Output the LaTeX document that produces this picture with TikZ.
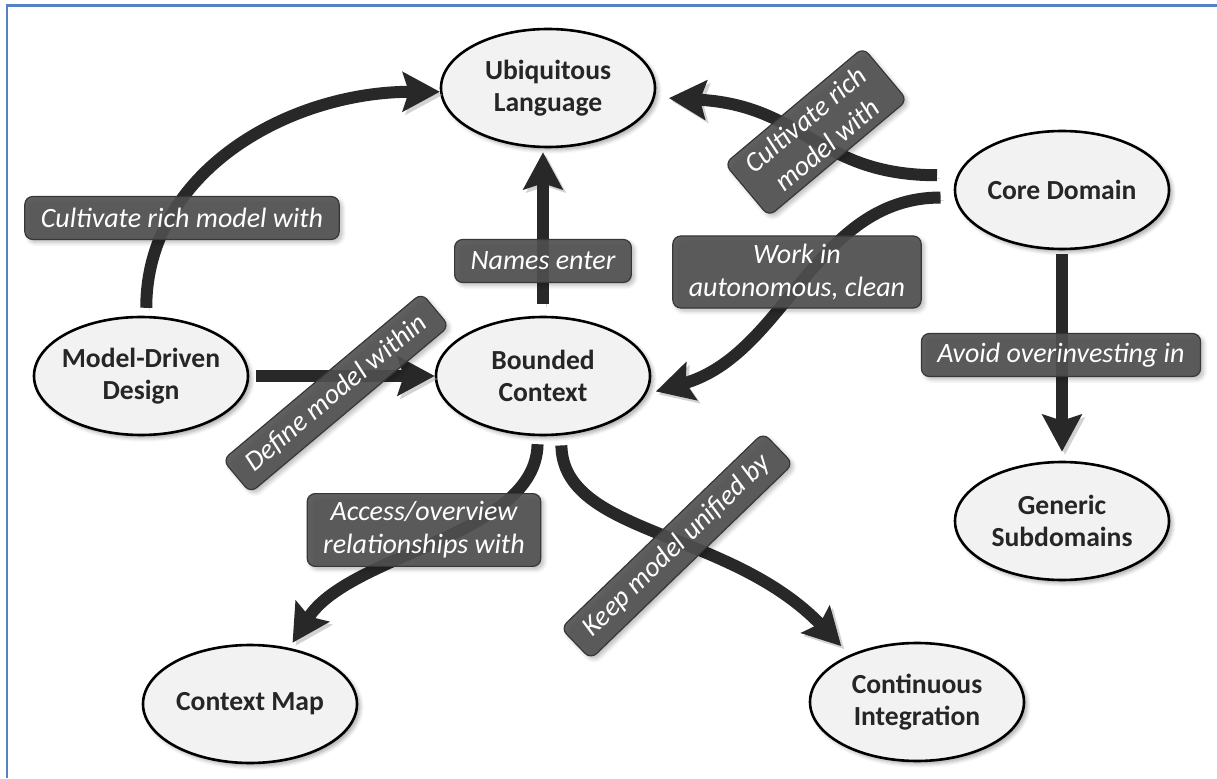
\documentclass[tikz,border=0pt]{standalone}
\usepackage{fontspec}
\setmainfont{Carlito}
\usetikzlibrary{arrows.meta,shapes.geometric,shadows.blur}
\definecolor{framebl}{RGB}{84,130,195}
\definecolor{nodefill}{RGB}{242,242,242}
\definecolor{inkc}{RGB}{38,38,38}
\definecolor{arrowc}{RGB}{40,40,40}
\definecolor{lblfill}{RGB}{80,80,80}
\definecolor{lbledge}{RGB}{55,55,55}
\tikzset{
  concept/.style={ellipse, draw=black, line width=1.3pt, fill=nodefill,
    minimum width=107pt, minimum height=59pt, inner xsep=-4pt, inner ysep=0pt,
    align=center, text=inkc, font=\bfseries\fontsize{13.8}{16}\selectfont,
    blur shadow={shadow xshift=1.5pt, shadow yshift=-1.5pt, shadow blur steps=6,
      shadow blur radius=2pt, shadow opacity=35}},
  relbox/.style={rectangle, rounded corners=4pt, fill=lblfill, fill opacity=0.9,
    text opacity=1, draw=lbledge, line width=0.6pt, text=white, align=center,
    inner xsep=8pt, inner ysep=4pt, minimum height=21.5pt,
    font=\itshape\fontsize{14}{16.5}\selectfont,
    blur shadow={shadow xshift=1.5pt, shadow yshift=-1.5pt, shadow blur steps=6,
      shadow blur radius=2pt, shadow opacity=30}},
  conn/.style={draw=arrowc, line width=6pt,
    -{Stealth[length=18.5pt,width=19.5pt,inset=3pt]},
    preaction={draw=gray!70, draw opacity=0.5, fill opacity=0.5,
      transform canvas={xshift=1.5pt,yshift=-1.5pt}}},
}
\begin{document}
\begin{tikzpicture}[x=0.5pt,y=0.5pt]
\useasboundingbox (0,0) rectangle (1217,778);
\draw[framebl, line width=1.3pt] (7,0) -- (7,772.5) -- (1217,772.5);

\node[concept] (ul)  at (548,690)  {Ubiquitous\\Language};
\node[concept] (cd)  at (1062,588) {Core Domain};
\node[concept] (mdd) at (141,402)  {Model-Driven\\Design};
\node[concept] (bc)  at (543,402)  {Bounded\\Context};
\node[concept] (gs)  at (1062,257) {Generic\\Subdomains};
\node[concept] (cm)  at (250,74)   {Context Map};
\node[concept] (ci)  at (917,76)   {Continuous\\Integration};

\draw[conn, shorten <=4pt] (mdd.85) .. controls +(0,145) and +(-150,0) .. (ul.182);
\draw[conn, shorten <=3.5pt] (mdd.east) -- (bc.west);
\draw[conn, shorten <=6pt, shorten >=2pt] (bc.north) -- (bc.north |- ul.south);
\draw[conn, shorten <=10pt, shorten >=7pt] (cd.172) .. controls +(-140,0) and +(150,-8) .. (ul.-5);
\draw[conn, shorten <=7pt, shorten >=5pt] (cd.184) .. controls +(-140,0) and +(140,40) .. (bc.-10);
\draw[conn, shorten <=2pt, shorten >=4.5pt] (cd.south) -- (gs.north);
\draw[conn, shorten <=4pt, shorten >=3pt] (bc.265) .. controls +(-2,-100) and +(60,95) .. (cm.55);
\draw[conn, shorten <=5pt, shorten >=6pt] (bc.-73) .. controls +(2,-100) and +(-121,126) .. (ci.145);

\node[relbox] (l1) at (182,560) {Cultivate rich model with};
\node[relbox] (l2) at (543,517) {Names enter};
\node[relbox, rotate=40] (l3) at (816,646) {Cultivate rich\\model with};
\node[relbox] (l4) at (797,506) {Work in\\autonomous, clean};
\node[relbox, rotate=40] (l5) at (336,385) {Define model within};
\node[relbox] (l6) at (424,248) {Access/overview\\relationships with};
\node[relbox, rotate=44] (l7) at (677,232) {Keep model unified by};
\node[relbox] (l8) at (1061,423) {Avoid overinvesting in};
\end{tikzpicture}
\end{document}
